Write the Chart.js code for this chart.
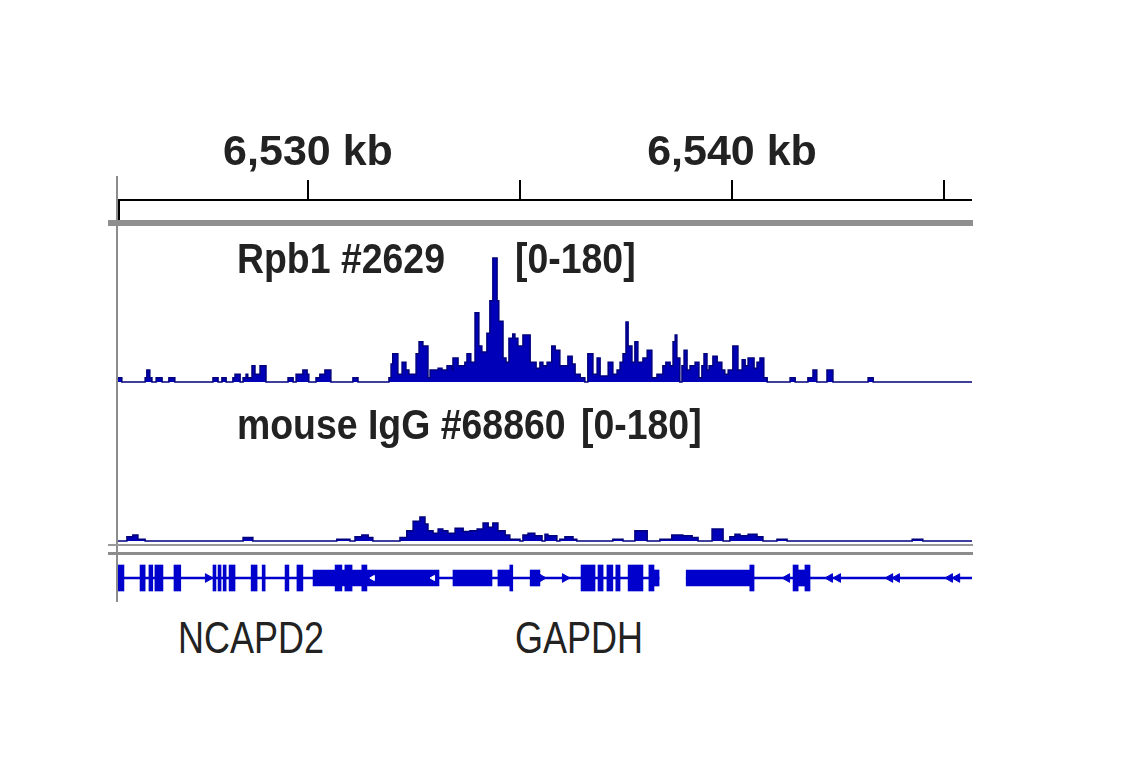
<!DOCTYPE html>
<html>
<head>
<meta charset="utf-8">
<script src="https://cdn.jsdelivr.net/npm/chart.js@4.4.0/dist/chart.umd.min.js"></script>
<style>
body { margin: 0; background: #fff; }
#page { position: relative; width: 1141px; height: 768px; overflow: hidden; font-family: "Liberation Sans Narrow", "Liberation Sans", Arial, sans-serif; color: #222; }
.box { position: absolute; }
.lbl { position: absolute; line-height: 1; white-space: nowrap; transform-origin: 0 0; }
.ttl { font-size: 43px; font-weight: bold; transform: scaleX(0.87); }
.gene { font-size: 45px; transform: scaleX(0.8); }
</style>
</head>
<body>
<div id="page">
  <!-- frame lines -->
  <div class="box" style="left:116px;top:176px;width:2px;height:426px;background:#8c8c8c"></div>
  <div class="box" style="left:118px;top:200px;width:2px;height:21px;background:#000"></div>
  <div class="box" style="left:108px;top:220px;width:865px;height:6px;background:#8f8f8f"></div>
  <div class="box" style="left:108px;top:544px;width:865px;height:2px;background:#999"></div>
  <div class="box" style="left:108px;top:552px;width:865px;height:3px;background:#8c8c8c"></div>

  <div class="box" style="left:118px;top:125px;width:854px;height:97px"><canvas id="ruler"></canvas></div>
  <div class="box" style="left:118px;top:228px;width:854px;height:156px"><canvas id="rpb1"></canvas></div>
  <div class="box" style="left:118px;top:387px;width:854px;height:156px"><canvas id="igg"></canvas></div>
  <div class="box" style="left:118px;top:560px;width:854px;height:36px"><canvas id="genes"></canvas></div>

  <div class="lbl ttl" style="left:237px;top:237px">Rpb1 #2629</div>
  <div class="lbl ttl" style="left:515px;top:237px">[0-180]</div>
  <div class="lbl ttl" style="left:237px;top:403px">mouse IgG #68860</div>
  <div class="lbl ttl" style="left:581px;top:403px">[0-180]</div>
  <div class="lbl gene" style="left:178px;top:615px">NCAPD2</div>
  <div class="lbl gene" style="left:515px;top:615px">GAPDH</div>
</div>

<script>
// region shown, in kb
var xMin = 6525.52;
var xMax = 6545.66;
var rangeMax = 180;

// Rpb1 coverage: bin start (kb) and value
var rpb1Pos = [6525.52, 6525.61, 6526.16, 6526.20, 6526.27, 6526.32, 6526.42, 6526.56, 6526.72, 6526.86,
    6527.76, 6527.88, 6527.97, 6528.07, 6528.23, 6528.28, 6528.40, 6528.47, 6528.54, 6528.58,
    6528.68, 6528.75, 6528.87, 6529.01, 6529.53, 6529.65, 6529.72, 6529.88, 6529.98, 6530.02,
    6530.19, 6530.28, 6530.40, 6530.54, 6531.06, 6531.18, 6531.91, 6531.96, 6532.00, 6532.12,
    6532.22, 6532.31, 6532.38, 6532.55, 6532.62, 6532.71, 6532.83, 6532.88, 6533.07, 6533.16,
    6533.28, 6533.40, 6533.42, 6533.54, 6533.70, 6533.75, 6533.84, 6533.94, 6534.03, 6534.10,
    6534.22, 6534.29, 6534.36, 6534.46, 6534.50, 6534.60, 6534.67, 6534.74, 6534.83, 6534.88,
    6534.95, 6535.07, 6535.24, 6535.38, 6535.47, 6535.54, 6535.64, 6535.75, 6535.83, 6535.94,
    6536.13, 6536.23, 6536.30, 6536.42, 6536.53, 6536.60, 6536.72, 6536.82, 6536.89, 6537.08,
    6537.19, 6537.29, 6537.36, 6537.43, 6537.50, 6537.55, 6537.64, 6537.71, 6537.78, 6537.90,
    6538.00, 6538.11, 6538.23, 6538.37, 6538.44, 6538.54, 6538.61, 6538.66, 6538.70, 6538.77,
    6538.82, 6538.87, 6538.94, 6539.01, 6539.13, 6539.22, 6539.29, 6539.34, 6539.41, 6539.46,
    6539.55, 6539.65, 6539.76, 6539.83, 6539.91, 6540.02, 6540.14, 6540.24, 6540.31, 6540.38,
    6540.52, 6540.59, 6540.66, 6540.75, 6540.83, 6541.37, 6541.49, 6541.79, 6541.91, 6542.00,
    6542.24, 6542.38, 6543.21, 6543.33, 6545.66];
var rpb1Val = [5, 0, 5, 14, 5, 0, 5, 0, 5, 0,
    5, 0, 5, 0, 5, 9, 0, 5, 9, 5,
    19, 9, 19, 0, 5, 0, 9, 14, 9, 0,
    5, 9, 14, 0, 5, 0, 5, 21, 33, 9,
    23, 14, 9, 33, 47, 42, 5, 14, 16, 14,
    19, 14, 28, 19, 23, 33, 23, 81, 42, 35,
    57, 95, 145, 95, 71, 28, 23, 51, 56, 51,
    42, 55, 23, 16, 23, 19, 23, 42, 37, 19,
    30, 21, 9, 5, 0, 33, 9, 28, 7, 23,
    9, 14, 23, 33, 70, 42, 23, 47, 23, 28,
    37, 5, 9, 19, 23, 19, 47, 55, 28, 0,
    19, 37, 14, 19, 23, 5, 19, 33, 14, 19,
    30, 23, 14, 9, 14, 42, 14, 26, 19, 28,
    16, 23, 28, 5, 0, 5, 0, 5, 14, 0,
    14, 0, 5, 0, 0];

// mouse IgG coverage
var iggPos = [6525.52, 6525.73, 6525.87, 6525.99, 6526.16, 6528.47, 6528.70, 6530.68, 6530.99, 6531.11,
    6531.27, 6531.42, 6531.53, 6532.17, 6532.33, 6532.48, 6532.64, 6532.76, 6532.83, 6532.95,
    6533.07, 6533.18, 6533.30, 6533.47, 6533.66, 6533.82, 6533.99, 6534.13, 6534.25, 6534.36,
    6534.48, 6534.65, 6534.76, 6535.00, 6535.07, 6535.19, 6535.35, 6535.52, 6535.59, 6535.66,
    6535.87, 6535.94, 6536.06, 6536.25, 6536.34, 6537.19, 6537.43, 6537.71, 6538.00, 6538.30,
    6538.58, 6538.84, 6539.06, 6539.20, 6539.53, 6539.79, 6539.95, 6540.07, 6540.19, 6540.38,
    6540.59, 6540.73, 6541.06, 6541.30, 6544.25, 6544.50, 6545.66];
var iggVal = [0, 5, 7, 2, 0, 4, 0, 2, 0, 5,
    7, 4, 0, 4, 12, 23, 28, 20, 12, 9,
    14, 12, 9, 15, 11, 12, 14, 21, 16, 21,
    12, 7, 2, 0, 7, 9, 6, 0, 8, 6,
    0, 2, 5, 2, 0, 2, 0, 12, 0, 2,
    7, 6, 4, 0, 14, 0, 5, 8, 6, 8,
    5, 0, 2, 0, 2, 0, 0];

// gene features [start, end] in kb
var exons = [[6525.52, 6525.66], [6526.04, 6526.16], [6526.25, 6526.34], [6526.39, 6526.58], [6526.84, 6527.00],
    [6527.76, 6527.83], [6527.88, 6527.95], [6528.00, 6528.07], [6528.14, 6528.28], [6528.66, 6528.80],
    [6528.92, 6528.99], [6529.46, 6529.55], [6529.74, 6529.88], [6530.64, 6530.80], [6530.87, 6531.04],
    [6531.27, 6531.39], [6534.76, 6534.83], [6536.44, 6536.77], [6536.84, 6536.96], [6537.05, 6537.19],
    [6537.26, 6537.36], [6537.55, 6537.90], [6538.04, 6538.16], [6540.42, 6540.52], [6541.44, 6541.56],
    [6541.72, 6541.84]];
var utrs = [[6530.12, 6533.09], [6533.42, 6534.34], [6534.48, 6534.76], [6535.24, 6535.47], [6538.16, 6538.28],
    [6538.92, 6540.42], [6541.56, 6541.72]];
var introns = [[6525.52, 6538.28], [6538.92, 6545.68]];
var arrowRight = [6527.64, 6535.50, 6536.06];
var arrowLeft = [6541.30, 6542.31, 6542.50, 6543.73, 6543.89, 6545.14, 6545.31];
var arrowWhite = [6531.53, 6532.95];

var blue = 'rgb(0,0,185)';
var navy = 'rgb(0,0,125)';
var geneBlue = 'rgb(0,0,205)';

Chart.defaults.font.family = '"Liberation Sans Narrow", "Liberation Sans", Arial, sans-serif';

function pts(pos, val) {
    return pos.map(function (p, i) { return {x: p, y: val[i]}; });
}

function spans(list) {
    return list.map(function (s) { return {x: s, y: 'g'}; });
}

function marks(list) {
    return list.map(function (p) { return {x: p, y: 'g'}; });
}

// ruler
new Chart(document.getElementById('ruler'), {
    type: 'scatter',
    data: {datasets: []},
    options: {
        responsive: true,
        maintainAspectRatio: false,
        animation: false,
        layout: {autoPadding: false},
        plugins: {legend: {display: false}, tooltip: {enabled: false}},
        scales: {
            x: {
                type: 'linear', position: 'top', min: xMin, max: xMax,
                afterFit: function (s) { s.height = 75; },
                grid: {drawOnChartArea: false, tickLength: 20, color: '#000', lineWidth: 2},
                border: {color: '#000', width: 2},
                ticks: {
                    stepSize: 5, includeBounds: false, autoSkip: false, maxRotation: 0, padding: 3,
                    color: '#222', font: {size: 43, weight: 'bold', lineHeight: 1.1},
                    callback: function (v) { return v % 10 === 0 ? v.toLocaleString('en-US') + ' kb' : ''; }
                }
            },
            y: {display: false, min: 0, max: 1}
        }
    }
});

function trackChart(id, pos, val) {
    return new Chart(document.getElementById(id), {
        type: 'line',
        data: {
            datasets: [{
                data: pts(pos, val),
                stepped: true,
                fill: 'origin',
                backgroundColor: blue,
                borderColor: navy,
                borderWidth: 1.5,
                pointRadius: 0,
                clip: false
            }]
        },
        options: {
            responsive: true,
            maintainAspectRatio: false,
            animation: false,
            layout: {autoPadding: false, padding: {bottom: 2}},
            plugins: {legend: {display: false}, tooltip: {enabled: false}},
            scales: {
                x: {type: 'linear', min: xMin, max: xMax, display: false},
                y: {min: 0, max: rangeMax, display: false}
            }
        }
    });
}

trackChart('rpb1', rpb1Pos, rpb1Val);
trackChart('igg', iggPos, iggVal);

// gene track
new Chart(document.getElementById('genes'), {
    type: 'bar',
    data: {
        labels: ['g'],
        datasets: [
            {type: 'scatter', data: marks(arrowWhite), pointStyle: 'triangle', rotation: -90, radius: 3,
                backgroundColor: '#fff', borderColor: '#fff', order: 0},
            {type: 'scatter', data: marks(arrowRight), pointStyle: 'triangle', rotation: 90, radius: 5,
                backgroundColor: geneBlue, borderColor: geneBlue, order: 0},
            {type: 'scatter', data: marks(arrowLeft), pointStyle: 'triangle', rotation: -90, radius: 5,
                backgroundColor: geneBlue, borderColor: geneBlue, order: 0},
            {data: spans(exons), backgroundColor: geneBlue, barThickness: 26, grouped: false, order: 1},
            {data: spans(utrs), backgroundColor: geneBlue, barThickness: 16, grouped: false, order: 2},
            {data: spans(introns), backgroundColor: geneBlue, barThickness: 2, grouped: false, order: 3}
        ]
    },
    options: {
        indexAxis: 'y',
        responsive: true,
        maintainAspectRatio: false,
        animation: false,
        layout: {autoPadding: false},
        plugins: {legend: {display: false}, tooltip: {enabled: false}},
        scales: {
            x: {type: 'linear', min: xMin, max: xMax, offset: false, display: false},
            y: {type: 'category', labels: ['g'], offset: true, display: false}
        }
    }
});
</script>
</body>
</html>
